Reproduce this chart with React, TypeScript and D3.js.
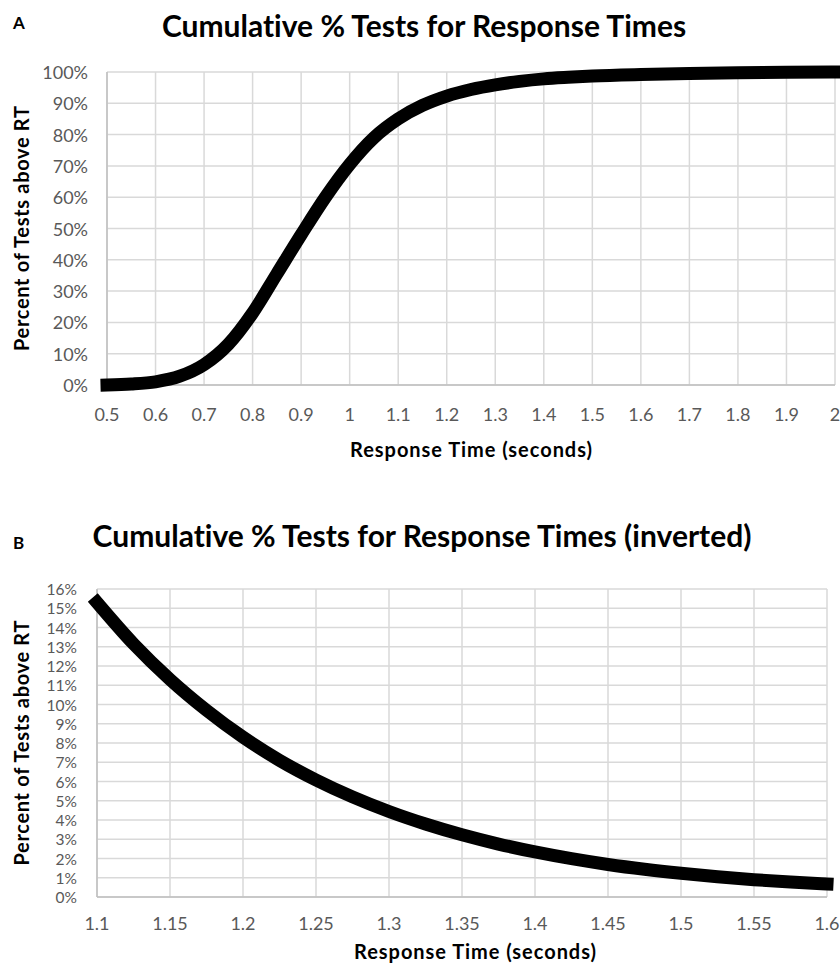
import * as d3 from "d3";
import { useEffect, useRef } from "react";

// panel A: cumulative % over 0.5 - 2 s
const rtA = [0.5, 0.55, 0.6, 0.65, 0.7, 0.75, 0.8, 0.85, 0.9, 0.95, 1.0, 1.05, 1.1, 1.15, 1.2, 1.25, 1.3, 1.35, 1.4, 1.45, 1.5, 1.6, 1.7, 1.8, 1.9, 2.0];
const pctA = [0, 0.3, 1.0, 2.8, 6.5, 13, 23, 35.5, 48, 60, 70.5, 79, 85, 89.3, 92.3, 94.4, 95.9, 97, 97.8, 98.3, 98.7, 99.2, 99.55, 99.75, 99.9, 100];
const xTicksA = d3.range(0.5, 2.0001, 0.1);
const yTicksA = d3.range(0, 101, 10);

// panel B: inverted, 1.1 - 1.6 s
const rtB = [1.1, 1.125, 1.15, 1.175, 1.2, 1.225, 1.25, 1.275, 1.3, 1.325, 1.35, 1.375, 1.4, 1.425, 1.45, 1.475, 1.5, 1.525, 1.55, 1.575, 1.6];
const pctB = [15.3, 13.15, 11.3, 9.7, 8.3, 7.1, 6.08, 5.2, 4.44, 3.79, 3.23, 2.75, 2.34, 1.99, 1.69, 1.44, 1.23, 1.05, 0.9, 0.78, 0.68];
const xTicksB = d3.range(1.1, 1.6001, 0.05);
const yTicksB = d3.range(0, 17, 1);

const FONT = "Lato, 'Open Sans', sans-serif";

type Panel = {
  letter: string;
  title: string;
  titleX: number;
  titleY: number;
  letterY: number;
  left: number;
  right: number;
  top: number;
  bottom: number;
  xDomain: [number, number];
  yDomain: [number, number];
  xTicks: number[];
  yTicks: number[];
  xs: number[];
  ys: number[];
  xLabelY: number;
  yLabelX: number;
  yLabelSize: number;
  xTitleX: number;
  xTitleY: number;
};

const drawPanel = (svg: d3.Selection<SVGSVGElement, unknown, null, undefined>, p: Panel) => {
  const x = d3.scaleLinear().domain(p.xDomain).range([p.left, p.right]);
  const y = d3.scaleLinear().domain(p.yDomain).range([p.bottom, p.top]);
  const g = svg
    .append("g")
    .style("font-variant-ligatures", "none")
    .attr("font-family", FONT);

  g.append("text")
    .attr("x", 13)
    .attr("y", p.letterY)
    .attr("font-weight", "bold")
    .attr("font-size", 17)
    .text(p.letter);

  g.append("text")
    .attr("x", p.titleX)
    .attr("y", p.titleY)
    .attr("text-anchor", "middle")
    .attr("font-weight", "bold")
    .attr("font-size", 30)
    .attr("fill", "#000")
    .text(p.title);

  // grid
  g.selectAll(".gx")
    .data(p.xTicks)
    .join("line")
    .attr("x1", (d) => x(d))
    .attr("x2", (d) => x(d))
    .attr("y1", p.top)
    .attr("y2", p.bottom)
    .attr("stroke", "#d9d9d9")
    .attr("stroke-width", 1.5);

  g.selectAll(".gy")
    .data(p.yTicks)
    .join("line")
    .attr("x1", p.left)
    .attr("x2", p.right)
    .attr("y1", (d) => y(d))
    .attr("y2", (d) => y(d))
    .attr("stroke", "#d9d9d9")
    .attr("stroke-width", 1.5);

  // axis lines
  g.append("line")
    .attr("x1", p.left)
    .attr("x2", p.left)
    .attr("y1", p.top)
    .attr("y2", p.bottom)
    .attr("stroke", "#bfbfbf")
    .attr("stroke-width", 1.5);
  g.append("line")
    .attr("x1", p.left)
    .attr("x2", p.right)
    .attr("y1", p.bottom)
    .attr("y2", p.bottom)
    .attr("stroke", "#bfbfbf")
    .attr("stroke-width", 1.5);

  // tick labels
  g.selectAll(".tx")
    .data(p.xTicks)
    .join("text")
    .attr("x", (d) => x(d))
    .attr("y", p.xLabelY)
    .attr("text-anchor", "middle")
    .attr("dominant-baseline", "central")
    .attr("font-size", 18)
    .attr("fill", "#595959")
    .text((d) => String(+d.toFixed(2)));

  g.selectAll(".ty")
    .data(p.yTicks)
    .join("text")
    .attr("x", p.yLabelX)
    .attr("y", (d) => y(d))
    .attr("text-anchor", "end")
    .attr("dominant-baseline", "central")
    .attr("font-size", p.yLabelSize)
    .attr("fill", "#595959")
    .text((d) => `${Math.round(d)}%`);

  // axis titles
  g.append("text")
    .attr("x", p.xTitleX)
    .attr("y", p.xTitleY)
    .attr("text-anchor", "middle")
    .attr("font-weight", "bold")
    .attr("font-size", 20)
    .attr("textLength", 242)
    .attr("lengthAdjust", "spacing")
    .text("Response Time (seconds)");

  g.append("text")
    .attr("transform", `translate(21,${(p.top + p.bottom) / 2}) rotate(-90)`)
    .attr("text-anchor", "middle")
    .attr("dominant-baseline", "central")
    .attr("font-weight", "bold")
    .attr("font-size", 20)
    .attr("textLength", 245)
    .attr("lengthAdjust", "spacing")
    .text("Percent of Tests above RT");

  const pts = p.xs.map((v, i) => [v, p.ys[i]] as [number, number]);
  const line = d3
    .line<[number, number]>()
    .x((d) => x(d[0]))
    .y((d) => y(d[1]))
    .curve(d3.curveMonotoneX);

  g.append("path")
    .attr("d", line(pts) ?? "")
    .attr("fill", "none")
    .attr("stroke", "#000")
    .attr("stroke-width", 13)
    .attr("stroke-linecap", "square")
    .attr("stroke-linejoin", "round");
};

const App = () => {
  const ref = useRef<SVGSVGElement>(null);

  useEffect(() => {
    const svg = d3.select(ref.current!);
    svg.attr("width", 840).attr("height", 969);

    drawPanel(svg, {
      letter: "A",
      title: "Cumulative % Tests for Response Times",
      titleX: 424,
      titleY: 37,
      letterY: 29,
      left: 107,
      right: 835,
      top: 72,
      bottom: 385,
      xDomain: [0.5, 2],
      yDomain: [0, 100],
      xTicks: xTicksA,
      yTicks: yTicksA,
      xs: rtA,
      ys: pctA,
      xLabelY: 414,
      yLabelX: 88,
      yLabelSize: 18,
      xTitleX: 471,
      xTitleY: 457,
    });

    drawPanel(svg, {
      letter: "B",
      title: "Cumulative % Tests for Response Times (inverted)",
      titleX: 422,
      titleY: 547,
      letterY: 549,
      left: 97,
      right: 827,
      top: 589,
      bottom: 897,
      xDomain: [1.1, 1.6],
      yDomain: [0, 16],
      xTicks: xTicksB,
      yTicks: yTicksB,
      xs: rtB,
      ys: pctB,
      xLabelY: 923,
      yLabelX: 77,
      yLabelSize: 15.5,
      xTitleX: 475,
      xTitleY: 959,
    });

    return () => {
      svg.selectAll("*").remove();
    };
  }, []);

  return (
    <svg
      ref={ref}
      style={{ position: "absolute", left: 0, top: 0, background: "#fff" }}
    ></svg>
  );
};

export default App;
